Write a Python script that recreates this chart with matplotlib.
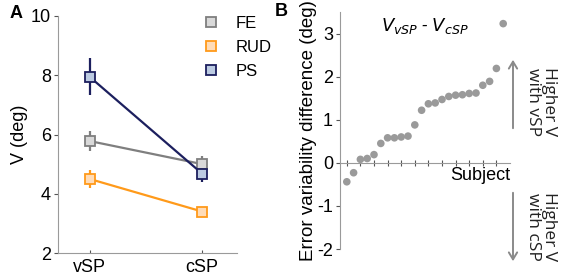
import matplotlib
matplotlib.use("Agg")
import matplotlib.pyplot as plt
from matplotlib.lines import Line2D
import numpy as np

plt.rcParams['font.family'] = ['Liberation Sans', 'DejaVu Sans']

# ---- Panel A data ----
conditions = ["vSP", "cSP"]
series_names = ["FE", "RUD", "PS"]
fe_mean = [5.78, 5.00]
fe_err = [0.33, 0.27]
rud_mean = [4.50, 3.40]
rud_err = [0.30, 0.12]
ps_mean = [7.95, 4.68]
ps_err = [0.62, 0.28]
a_yticks = [2, 4, 6, 8, 10]

# ---- Panel B data ----
diff_values = [-0.44, -0.23, 0.08, 0.10, 0.19, 0.45, 0.58, 0.58, 0.60, 0.62,
               0.88, 1.22, 1.37, 1.39, 1.47, 1.54, 1.57, 1.58, 1.61, 1.62,
               1.80, 1.89, 2.19, 3.23]
b_yticks = [-2, -1, 0, 1, 2, 3]

W, H = 561, 276
fig = plt.figure(figsize=(W / 100, H / 100), dpi=100)

def box(l, r, t, b):
    return [l / W, 1 - b / H, (r - l) / W, (b - t) / H]

# ---------- Panel A ----------
axA = fig.add_axes(box(58, 237, 16, 253))
line_cols = ["#7f7f7f", "#ff9a1a", "#1c1f5e"]
face_cols = ["#d9d9d9", "#ffdcb8", "#bccbe2"]
x = np.arange(len(conditions))
for name, m, e, lc, fc in zip(series_names, [fe_mean, rud_mean, ps_mean],
                              [fe_err, rud_err, ps_err], line_cols, face_cols):
    axA.errorbar(x, m, yerr=e, color=lc, lw=1.6, elinewidth=1.6, capsize=0,
                 marker="s", markersize=6.5, markerfacecolor=fc,
                 markeredgecolor=lc, markeredgewidth=1.3, label=name, zorder=3)
axA.set_xlim(-0.28, 1.31)
axA.set_ylim(2, 10)
axA.set_xticks(x)
axA.set_xticklabels(conditions, fontsize=13)
axA.set_yticks(a_yticks)
axA.set_yticklabels([str(v) for v in a_yticks], fontsize=13)
axA.set_ylabel("V (deg)", fontsize=13, labelpad=2)
for s in ["top", "right"]:
    axA.spines[s].set_visible(False)
for s in ["left", "bottom"]:
    axA.spines[s].set_color("#9a9a9a")
    axA.spines[s].set_linewidth(0.8)
axA.tick_params(axis="y", direction="out", length=3, width=0.8, color="#555555", pad=2)
axA.tick_params(axis="x", direction="in", length=2, width=0.8, color="#555555", pad=4)
handles = [Line2D([], [], ls="none", marker="s", markersize=6.5,
                  markerfacecolor=fc, markeredgecolor=lc, markeredgewidth=1.3)
           for lc, fc in zip(line_cols, face_cols)]
axA.legend(handles, series_names, loc="upper left", bbox_to_anchor=(0.77, 1.03),
           frameon=False, fontsize=12, handlelength=1.0, handletextpad=1.0,
           labelspacing=0.55, borderaxespad=0)

# ---------- Panel B ----------
axB = fig.add_axes(box(340, 510, 12, 249))
subj = np.arange(1, len(diff_values) + 1)
axB.scatter(subj, diff_values, s=30, color="#9a9a9a", edgecolors="none", zorder=3)
axB.set_xlim(0, 25)
axB.set_ylim(-2, 3.5)
axB.set_yticks(b_yticks)
axB.set_yticklabels([str(v) for v in b_yticks], fontsize=13)
axB.set_xticks(np.arange(1, 25, 2))
axB.set_xticklabels([])
axB.tick_params(axis="x", direction="inout", length=4, width=0.8, color="#555555")
axB.tick_params(axis="y", direction="out", length=3, width=0.8, color="#555555", pad=2)
for s in ["top", "right"]:
    axB.spines[s].set_visible(False)
axB.spines["bottom"].set_position(("data", 0))
for s in ["left", "bottom"]:
    axB.spines[s].set_color("#9a9a9a")
    axB.spines[s].set_linewidth(0.8)
axB.set_ylabel("Error variability difference (deg)", fontsize=13.5, labelpad=0)
axB.text(0.5, 0.985, r"$V_{vSP}$ - $V_{cSP}$", transform=axB.transAxes,
         ha="center", va="top", fontsize=13, style="italic",
         family=["Open Sans", "DejaVu Sans"])
axB.text(25.1, -0.1, "Subject", ha="right", va="top", fontsize=13)

# arrows (outside the axes)
arrow_col = "#8a8a8a"
axB.annotate("", xy=(513 / W, 1 - 57 / H), xytext=(513 / W, 1 - 131 / H),
             xycoords="figure fraction", textcoords="figure fraction",
             arrowprops=dict(arrowstyle="->,head_length=0.5,head_width=0.3",
                             color=arrow_col, lw=1.4))
axB.annotate("", xy=(513 / W, 1 - 264 / H), xytext=(513 / W, 1 - 190 / H),
             xycoords="figure fraction", textcoords="figure fraction",
             arrowprops=dict(arrowstyle="->,head_length=0.5,head_width=0.3",
                             color=arrow_col, lw=1.4))
fig.text(541 / W, 1 - 102 / H, "Higher V\nwith vSP", rotation=270,
         ha="center", va="center", fontsize=12.5, linespacing=1.05,
         family=["Open Sans", "DejaVu Sans"], color="#222222")
fig.text(541 / W, 1 - 227 / H, "Higher V\nwith cSP", rotation=270,
         ha="center", va="center", fontsize=12.5, linespacing=1.05,
         family=["Open Sans", "DejaVu Sans"], color="#222222")

# panel letters
fig.text(10 / W, 1 - 14 / H, "A", fontsize=13, fontweight="bold", va="center", ha="left")
fig.text(275 / W, 1 - 12 / H, "B", fontsize=13, fontweight="bold", va="center", ha="left")

fig.savefig("out.png", dpi=100)
